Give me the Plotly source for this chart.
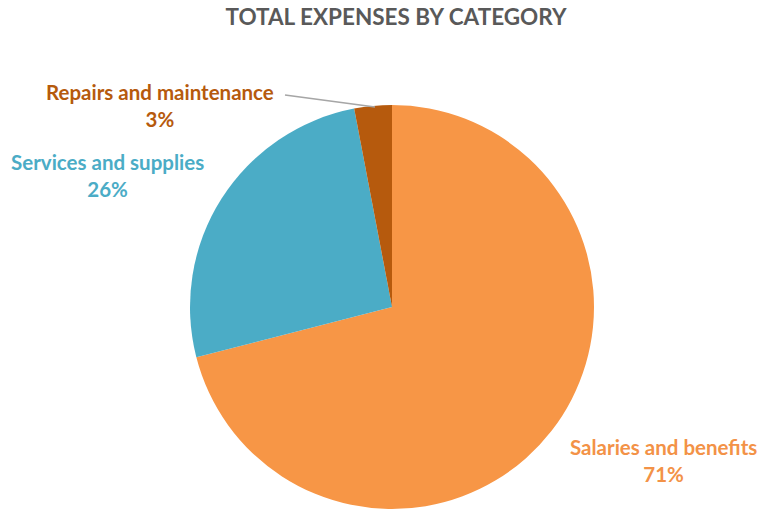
import plotly.graph_objects as go

categories = ["Salaries and benefits", "Services and supplies", "Repairs and maintenance"]
values = [71, 26, 3]
colors = ["#F79646", "#4BACC6", "#B65A0D"]
label_colors = ["#F39247", "#4BACC6", "#B65A0D"]

W, H = 761, 512
cx, cy, r = 392, 307, 202

fig = go.Figure(go.Pie(
    labels=categories,
    values=values,
    marker=dict(colors=colors, line=dict(width=0)),
    sort=False,
    direction="clockwise",
    rotation=0,
    textinfo="none",
    hoverinfo="label+percent",
    domain=dict(x=[(cx - r) / W, (cx + r) / W], y=[(H - cy - r) / H, (H - cy + r) / H]),
    showlegend=False,
))

# label positions (pixel centers of text blocks)
label_pos = {
    "Salaries and benefits": (663, 460),
    "Services and supplies": (107, 175),
    "Repairs and maintenance": (160, 105),
}
total = sum(values)
for cat, v, c in zip(categories, values, label_colors):
    x, y = label_pos[cat]
    fig.add_annotation(
        x=x / W, y=1 - y / H, xref="paper", yref="paper",
        text=f"<b>{cat}</b><br><b>{round(v / total * 100)}%</b>",
        showarrow=False, xanchor="center", yanchor="middle",
        font=dict(family="Lato", size=20.5, color=c), align="center",
    )

fig.add_shape(type="line", xref="paper", yref="paper",
              x0=285 / W, y0=1 - 95 / H, x1=375 / W, y1=1 - 107 / H,
              line=dict(color="#A6A6A6", width=1.5))

fig.update_layout(
    width=W, height=H,
    margin=dict(l=0, r=0, t=0, b=0),
    paper_bgcolor="white", plot_bgcolor="white",
    title=dict(text="<b>TOTAL EXPENSES BY CATEGORY</b>", x=396 / W, xanchor="center",
               y=1 - 17 / H, yanchor="middle",
               font=dict(family="Lato", size=22.5, color="#595959")),
)

fig.write_html("out.html")
